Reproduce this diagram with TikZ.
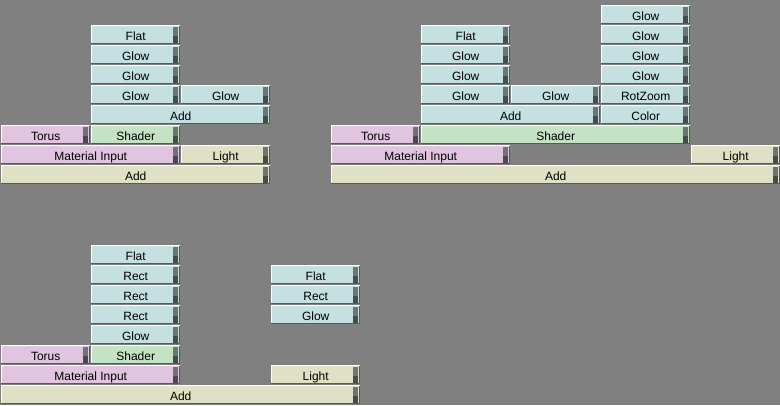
\documentclass[tikz,border=0pt]{standalone}
\usepackage{fontspec}
\setmainfont{Liberation Sans}
\usepackage{tikz}
\definecolor{bg}{RGB}{128,128,128}
\definecolor{fxcol}{RGB}{196,224,224}
\definecolor{objcol}{RGB}{224,196,224}
\definecolor{shdcol}{RGB}{196,226,196}
\definecolor{litcol}{RGB}{224,224,196}
\definecolor{tabhi}{RGB}{110,116,116}
\definecolor{tablo}{RGB}{70,76,76}
\tikzset{
  strip/.style={rectangle, anchor=north west, inner sep=0pt, minimum height=19pt,
    minimum width=#1*90pt-1pt, font=\fontsize{12}{12}\selectfont,
    text height=11pt, text depth=0pt,
    path picture={
      \fill[tabhi] ([xshift=-7pt,yshift=-1.5pt]path picture bounding box.north east)
        rectangle ([xshift=-2pt,yshift=-11pt]path picture bounding box.north east);
      \fill[tablo] ([xshift=-7pt,yshift=-11pt]path picture bounding box.north east)
        rectangle ([xshift=-2pt,yshift=1pt]path picture bounding box.south east);
      \draw[white, line width=1pt] ([yshift=0.5pt]path picture bounding box.south west)
        -- ([xshift=0.5pt,yshift=-0.5pt]path picture bounding box.north west)
        -- ([yshift=-0.5pt]path picture bounding box.north east);
      \draw[black!65, line width=1pt] ([yshift=-0.5pt]path picture bounding box.north east)
        ++(-0.5pt,0) |- ([yshift=0.5pt]path picture bounding box.south west);
    }},
  fx/.style={strip=#1, fill=fxcol},
  obj/.style={strip=#1, fill=objcol},
  shd/.style={strip=#1, fill=shdcol},
  lit/.style={strip=#1, fill=litcol},
}

\begin{document}
\begin{tikzpicture}[x=1pt, y=-1pt]
  \useasboundingbox (0,0) rectangle (780,405);
  \fill[bg] (0,0) rectangle (780,405);

  % ---------- first stack ----------
  \node[fx=1]  (flatA)   at (91,25)  {Flat};
  \node[fx=1]  (glowA1)  at (91,45)  {Glow};
  \node[fx=1]  (glowA2)  at (91,65)  {Glow};
  \node[fx=1]  (glowA3)  at (91,85)  {Glow};
  \node[fx=1]  (glowA4)  at (181,85) {Glow};
  \node[fx=2]  (addA)    at (91,105) {Add};
  \node[obj=1] (torusA)  at (1,125)  {Torus};
  \node[shd=1] (shaderA) at (91,125) {Shader};
  \node[obj=2] (matA)    at (1,145)  {Material Input};
  \node[lit=1] (lightA)  at (181,145) {Light};
  \node[lit=3] (sumA)    at (1,165)  {Add};

  % ---------- second stack ----------
  \node[fx=1]  (flatB)   at (421,25)  {Flat};
  \node[fx=1]  (glowB1)  at (421,45)  {Glow};
  \node[fx=1]  (glowB2)  at (421,65)  {Glow};
  \node[fx=1]  (glowB3)  at (421,85)  {Glow};
  \node[fx=1]  (glowB4)  at (511,85)  {Glow};
  \node[fx=2]  (addB)    at (421,105) {Add};
  \node[fx=1]  (glowC1)  at (601,5)   {Glow};
  \node[fx=1]  (glowC2)  at (601,25)  {Glow};
  \node[fx=1]  (glowC3)  at (601,45)  {Glow};
  \node[fx=1]  (glowC4)  at (601,65)  {Glow};
  \node[fx=1]  (rotB)    at (601,85)  {RotZoom};
  \node[fx=1]  (colorB)  at (601,105) {Color};
  \node[obj=1] (torusB)  at (331,125) {Torus};
  \node[shd=3] (shaderB) at (421,125) {Shader};
  \node[obj=2] (matB)    at (331,145) {Material Input};
  \node[lit=1] (lightB)  at (691,145) {Light};
  \node[lit=5] (sumB)    at (331,165) {Add};

  % ---------- third stack ----------
  \node[fx=1]  (flatD)   at (91,245) {Flat};
  \node[fx=1]  (rectD1)  at (91,265) {Rect};
  \node[fx=1]  (rectD2)  at (91,285) {Rect};
  \node[fx=1]  (rectD3)  at (91,305) {Rect};
  \node[fx=1]  (glowD)   at (91,325) {Glow};
  \node[obj=1] (torusD)  at (1,345)  {Torus};
  \node[shd=1] (shaderD) at (91,345) {Shader};
  \node[obj=2] (matD)    at (1,365)  {Material Input};
  \node[lit=4] (sumD)    at (1,385)  {Add};
  \node[fx=1]  (flatE)   at (271,265) {Flat};
  \node[fx=1]  (rectE)   at (271,285) {Rect};
  \node[fx=1]  (glowE)   at (271,305) {Glow};
  \node[lit=1] (lightE)  at (271,365) {Light};

\end{tikzpicture}
\end{document}
